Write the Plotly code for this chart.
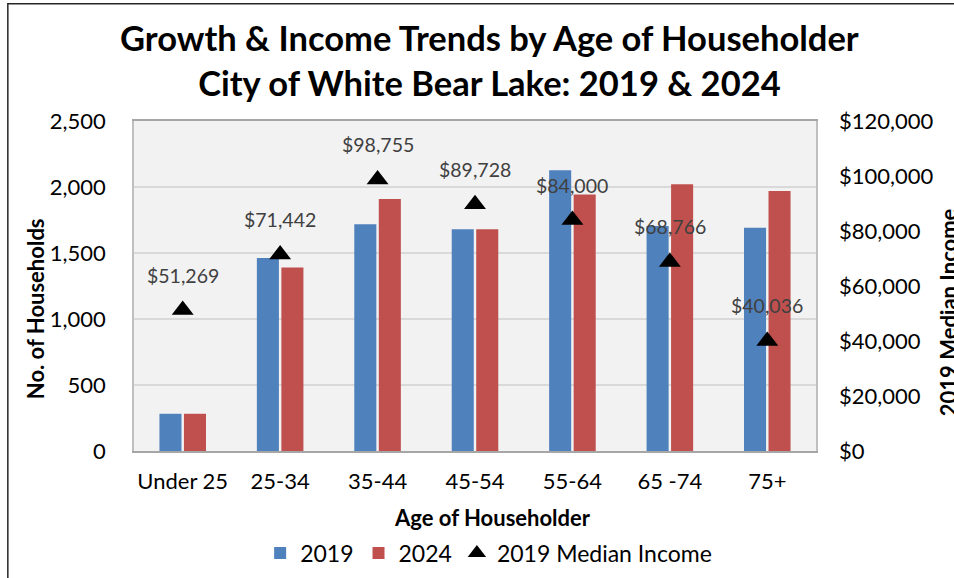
import plotly.graph_objects as go

# Household counts by age group, 2019 vs 2024, plus 2019 median income
age_groups = ["Under 25", "25-34", "35-44", "45-54", "55-64", "65 -74", "75+"]
households_2019 = [282, 1462, 1717, 1679, 2126, 1704, 1692]
households_2024 = [282, 1391, 1909, 1679, 1944, 2020, 1970]
median_income_2019 = [51269, 71442, 98755, 89728, 84000, 68766, 40036]

left_ticks = [0, 500, 1000, 1500, 2000, 2500]
right_ticks = [0, 20000, 40000, 60000, 80000, 100000, 120000]

FONT = "Lato"
BLUE = "#4F81BD"
RED = "#C0504D"

fig = go.Figure()

fig.add_trace(go.Bar(
    x=age_groups, y=households_2019, name="2019",
    marker=dict(color=BLUE, line=dict(width=0)),
))
fig.add_trace(go.Bar(
    x=age_groups, y=households_2024, name="2024",
    marker=dict(color=RED, line=dict(width=0)),
))
fig.add_trace(go.Scatter(
    x=age_groups, y=median_income_2019, name="2019 Median Income",
    yaxis="y2", mode="markers",
    marker=dict(symbol="triangle-up", size=19, color="black"),
))

# Income value labels above each triangle
for grp, inc in zip(age_groups, median_income_2019):
    fig.add_annotation(
        x=grp, y=inc, xref="x", yref="y2", yshift=35,
        text=f"${inc:,}", showarrow=False,
        font=dict(family=FONT, size=19.5, color="#404040"),
    )

# Axis titles
fig.add_annotation(
    x=-0.145, y=0.43, xref="paper", yref="paper",
    xanchor="center", yanchor="middle",
    text="<b>No. of Households</b>", textangle=-90, showarrow=False,
    font=dict(family=FONT, size=22, color="black"),
)
fig.add_annotation(
    x=1.172, y=0.42, xref="paper", yref="paper",
    xanchor="left", yanchor="middle",
    text="<b>2019 Median Income</b>", textangle=-90, showarrow=False,
    font=dict(family=FONT, size=22, color="black"),
)
fig.add_annotation(
    x=0.525, y=-0.2, xref="paper", yref="paper",
    xanchor="center", yanchor="middle",
    text="<b>Age of Householder</b>", showarrow=False,
    font=dict(family=FONT, size=22, color="black"),
)

# Outer chart frame
fig.add_shape(
    type="rect", xref="paper", yref="paper",
    x0=-0.185, x1=1.25, y0=-0.5, y1=1.355,
    line=dict(color="#262626", width=1.5), fillcolor="rgba(0,0,0,0)",
    layer="below",
)

fig.update_layout(
    width=954, height=578,
    margin=dict(l=134, r=138, t=121, b=127),
    paper_bgcolor="white",
    plot_bgcolor="#F2F2F2",
    barmode="group",
    bargap=0.497,
    bargroupgap=0.1,
    font=dict(family=FONT, size=22, color="black"),
    title=dict(
        text="<b>Growth & Income Trends by Age of Householder<br>City of White Bear Lake: 2019 & 2024</b>",
        x=0.513, xanchor="center", y=1 - 51 / 578, yanchor="middle",
        font=dict(family=FONT, size=34.5, color="black"),
    ),
    xaxis=dict(
        showline=True, linecolor="#A6A6A6", linewidth=1.5, mirror=True,
        ticks="", tickfont=dict(family=FONT, size=22, color="black"),
        ticklabelstandoff=10,
    ),
    yaxis=dict(
        range=[0, 2500], tickvals=left_ticks, tickformat=",",
        showgrid=True, gridcolor="#D9D9D9", gridwidth=1.5,
        showline=True, linecolor="#BFBFBF", linewidth=1.5, mirror=True,
        zeroline=False, ticks="",
        tickfont=dict(family=FONT, size=22, color="black"),
        ticklabelstandoff=22,
    ),
    yaxis2=dict(
        range=[0, 120000], tickvals=right_ticks,
        ticktext=[f"${v:,}" for v in right_ticks],
        overlaying="y", side="right", showgrid=False, zeroline=False,
        ticks="", tickfont=dict(family=FONT, size=22, color="black"),
        ticklabelstandoff=22,
    ),
    legend=dict(
        orientation="h", x=0.52, xanchor="center",
        yref="container", y=1 - 553 / 578, yanchor="middle",
        font=dict(family=FONT, size=23, color="black"),
        bgcolor="rgba(0,0,0,0)",
        itemwidth=30,
    ),
)

fig.write_html("out.html")
